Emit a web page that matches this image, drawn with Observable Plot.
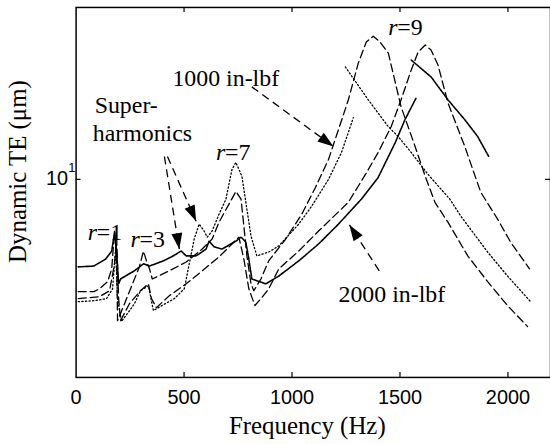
<!DOCTYPE html>
<html><head><meta charset="utf-8">
<script src="https://cdn.jsdelivr.net/npm/d3@7"></script>
<script src="https://cdn.jsdelivr.net/npm/@observablehq/plot@0.6"></script>
<style>
html,body{margin:0;padding:0;overflow:hidden;background:#fff}
</style>
</head><body><div id="chart"></div>
<script>
const xTicks = [0, 500, 1000, 1500, 2000];
const yTicks = [10];

// 1000 in-lbf, prediction (dashed)
const pred1000Hz = [10,82,109,146,165,178,188,192,206,243,293,312,326,340,353,432,510,584,630,662,708,740,764,777,791,810,823,856,892,971,1045,1109,1169,1215,1261,1307,1344,1376,1408,1446,1505,1570,1617,1662,1722,1814,1906,1998,2091];
const pred1000TE = [4.97,4.97,5.06,5.29,5.73,7.25,6.09,4.15,4.34,4.91,5.80,6.40,6.02,5.73,5.38,5.66,5.98,6.48,6.90,7.66,8.57,9.28,8.84,7.47,6.21,5.22,5.00,5.38,6.02,6.90,8.05,9.52,11.32,13.62,16.41,20.63,23.50,24.38,23.50,21.94,15.71,12.27,10.19,8.67,7.66,6.21,5.29,4.56,4.00];
// 2000 in-lbf, prediction (dashed)
const pred2000Hz = [10,109,155,178,188,197,206,247,298,335,349,372,432,510,584,662,722,754,777,800,828,856,892,939,1031,1123,1261,1340,1399,1459,1505,1552,1584,1617,1644,1676,1722,1800,1874,1952,2012,2100];
const pred2000TE = [4.76,4.82,5.00,5.91,6.90,4.76,4.15,4.61,5.00,5.22,4.76,4.50,4.85,5.22,5.66,6.17,6.69,6.98,6.09,5.06,4.56,4.76,5.06,5.73,6.40,7.25,8.67,10.31,11.82,13.88,16.41,19.75,22.08,23.07,22.36,20.38,16.11,12.27,9.23,7.81,6.77,5.73];
// 1000 in-lbf, measured (dotted): up-sweep and down-sweep
const meas1000UpHz = [10,86,141,169,183,192,210,238,270,298,335,358,404,455,501,524,547,570,593,607,630,662,694,722,740,768,791,810,837,892,939,1031,1091,1169,1229,1284];
const meas1000UpTE = [4.67,4.70,4.76,5.06,6.48,4.76,4.13,4.34,4.61,5.00,5.16,4.42,4.58,4.76,5.06,5.91,6.90,7.57,7.25,6.98,7.25,8.05,8.84,10.64,11.11,10.19,8.31,7.03,6.21,6.36,6.61,7.57,8.46,10.00,11.82,14.68];
const meas1000DownHz = [1247,1353,1446,1492,1552,1630,1731,1782,1906,1998,2105];
const meas1000DownTE = [20.13,16.41,13.88,13.05,11.82,10.31,8.84,7.95,6.36,5.48,4.67];
// 2000 in-lbf, measured (heavy dotted): up-sweep and down-sweep
const meas2000UpHz = [10,82,137,165,178,188,197,206,270,312,340,404,441,487,510,556,602,616,639,676,740,764,786,800,814,837,879,939,1031,1123,1215,1321,1399,1478,1523,1575];
const meas2000UpTE = [5.80,5.83,6.09,6.40,7.20,6.29,5.22,5.38,5.66,5.91,5.83,6.02,6.17,6.40,6.21,6.21,6.48,6.81,6.57,6.48,6.81,6.98,6.77,6.09,5.38,5.32,5.22,5.48,6.02,6.69,7.57,8.84,10.12,12.57,14.50,16.61];
const meas2000DownHz = [1552,1644,1722,1800,1860,1911];
const meas2000DownTE = [21.02,18.92,16.41,14.50,13.05,11.53];

const rows = (hz, te, series) => hz.map((f, i) => ({f, te: te[i], series}));
const predRows = [...rows(pred1000Hz, pred1000TE, "p1000"), ...rows(pred2000Hz, pred2000TE, "p2000")];
const m1Rows = [...rows(meas1000UpHz, meas1000UpTE, "up"), ...rows(meas1000DownHz, meas1000DownTE, "down")];
const m2Rows = [...rows(meas2000UpHz, meas2000UpTE, "up"), ...rows(meas2000DownHz, meas2000DownTE, "down")];

const xMax = 2197, yMin = 2.915, yMax = 29.15;
const tickF = Math.pow(10, 5 / 372);
const serif = "Liberation Serif";
const sans = "Liberation Sans";

const arrowHead = {draw(ctx) { ctx.moveTo(0, 0); ctx.lineTo(5.5, 16); ctx.lineTo(-5.5, 16); ctx.closePath(); }};
const arrow = (x1, y1, x2, y2, angle) => [
  Plot.link([0], {x1, y1, x2, y2, stroke: "black", strokeWidth: 1.3, strokeDasharray: "8,5"}),
  Plot.dot([0], {x: x2, y: y2, symbol: arrowHead, r: 5, rotate: angle, fill: "black", stroke: "none"})
];
const rLabel = (x, y, n) => [
  Plot.text([0], {x, y, text: () => "r", fontStyle: "italic", fontFamily: serif, fontSize: 24, textAnchor: "start", lineAnchor: "bottom"}),
  Plot.text([0], {x, y, text: () => "=" + n, fontFamily: serif, fontSize: 24, textAnchor: "start", lineAnchor: "bottom", dx: 9})
];

const chart = Plot.plot({
  width: 553, height: 444,
  marginLeft: 76, marginRight: 0, marginTop: 7, marginBottom: 65,
  x: {domain: [0, xMax], axis: null},
  y: {type: "log", domain: [yMin, yMax], axis: null},
  style: {background: "white", color: "black"},
  marks: [
    Plot.line(predRows, {x: "f", y: "te", z: "series", stroke: "black", strokeWidth: 1.3, strokeDasharray: "8,4"}),
    Plot.line(m1Rows, {x: "f", y: "te", z: "series", stroke: "black", strokeWidth: 1.3, strokeDasharray: "1.3,2.3"}),
    Plot.line(m2Rows, {x: "f", y: "te", z: "series", stroke: "black", strokeWidth: 1.6, strokeDasharray: "2.5,1"}),
    Plot.frame({stroke: "black", strokeWidth: 1.5}),
    Plot.ruleX(xTicks.filter(d => d > 0), {x: d => d, y1: yMin, y2: yMin * tickF, stroke: "black", strokeWidth: 1.2}),
    Plot.ruleX(xTicks.filter(d => d > 0), {x: d => d, y1: yMax / tickF, y2: yMax, stroke: "black", strokeWidth: 1.2}),
    Plot.ruleY(yTicks, {y: d => d, x1: 0, x2: 23, stroke: "black", strokeWidth: 1.2}),
    Plot.ruleY(yTicks, {y: d => d, x1: xMax - 23, x2: xMax, stroke: "black", strokeWidth: 1.2}),
    Plot.text(xTicks, {x: d => d, frameAnchor: "bottom", dy: 27, lineAnchor: "bottom", text: d => String(d), fontFamily: sans, fontSize: 20}),
    Plot.text(yTicks, {y: d => d, frameAnchor: "left", dx: -8, dy: -1, textAnchor: "end", text: () => "10", fontFamily: sans, fontSize: 20}),
    Plot.text(yTicks, {y: d => d, frameAnchor: "left", dx: -8, dy: -12, textAnchor: "start", text: d => String(Math.round(Math.log10(d))), fontFamily: sans, fontSize: 13}),
    Plot.text(["Frequency (Hz)"], {frameAnchor: "bottom", dx: -6, dy: 57, textAnchor: "middle", lineAnchor: "bottom", fontFamily: serif, fontSize: 25}),
    Plot.text(["Dynamic TE (μm)"], {frameAnchor: "left", dx: -58, dy: -21, rotate: -90, textAnchor: "middle", lineAnchor: "middle", fontFamily: serif, fontSize: 25}),
    Plot.text(["1000 in-lbf"], {x: 446, y: 17.89, textAnchor: "start", lineAnchor: "bottom", fontFamily: serif, fontSize: 24}),
    Plot.text(["2000 in-lbf"], {x: 1215, y: 4.67, textAnchor: "start", lineAnchor: "bottom", fontFamily: serif, fontSize: 24}),
    Plot.text(["Super-"], {x: 86, y: 15.14, textAnchor: "start", lineAnchor: "bottom", fontFamily: serif, fontSize: 24}),
    Plot.text(["harmonics"], {x: 77, y: 12.73, textAnchor: "start", lineAnchor: "bottom", fontFamily: serif, fontSize: 24}),
    ...rLabel(54, 6.86, 1),
    ...rLabel(252, 6.57, 3),
    ...rLabel(648, 11.25, 7),
    ...rLabel(1446, 24.53, 9),
    ...arrow(814, 17.78, 1192, 12.27, 126),
    ...arrow(409, 11.53, 478, 6.48, 171),
    ...arrow(423, 11.53, 556, 7.71, 156),
    ...arrow(1404, 5.66, 1266, 7.53, -33)
  ]
});
document.getElementById("chart").appendChild(chart);
// apply the font family directly on every text element
d3.select(chart).selectAll("text").each(function() {
  let fam = null;
  for (let n = this; n && n !== chart; n = n.parentNode) {
    if (n.getAttribute && n.getAttribute("font-family")) { fam = n.getAttribute("font-family"); break; }
  }
  this.style.setProperty("font-family", fam === sans ? "'Liberation Sans', Arial, sans-serif" : "'Liberation Serif', 'Times New Roman', serif", "important");
});
</script>
</body></html>
